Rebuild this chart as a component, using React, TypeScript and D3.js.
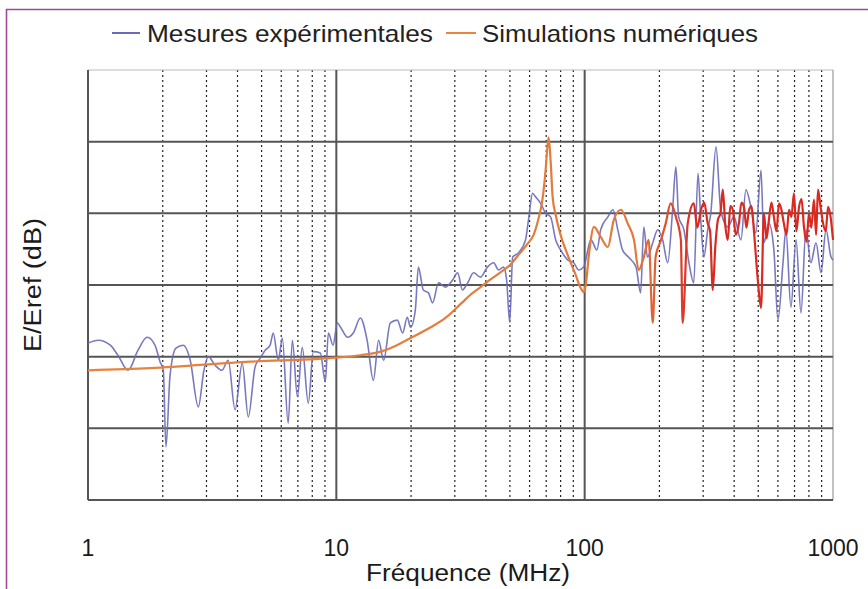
import React from 'react';
import * as d3 from 'd3';

// measured field (blue), frequency in MHz / level in dB
const measFreq = [
  1.0, 1.1, 1.23, 1.32, 1.45, 1.59, 1.73, 1.86, 1.95, 2.01, 2.06, 2.14, 2.26, 2.42, 2.58, 2.78, 2.93, 3.05,
  3.25, 3.46, 3.67, 3.91, 4.18, 4.42, 4.71, 4.94, 5.17, 5.41, 5.57, 5.84, 6.06, 6.4, 6.65, 6.97, 7.29, 7.71,
  8.08, 8.62, 9.03, 9.29, 9.7, 10.1, 10.4, 11.1, 11.7, 12.5, 13.3, 14.1, 14.8, 15.5, 16.5, 17.6, 18.5, 19.3,
  19.9, 20.8, 21.4, 22.4, 23.5, 24.4, 25.8, 27.5, 29.4, 30.8, 32.2, 33.8, 35.7, 38.1, 40.6, 43.0, 45.0, 47.1,
  48.5, 49.9, 51.3, 54.2, 57.8, 59.4, 61.7, 63.4, 66.5, 69.6, 72.9, 76.4, 80.0, 85.4, 90.3, 94.6, 99.1,
  106, 112, 116, 124, 130, 136, 142, 150, 161, 168, 173, 179, 188, 197, 206, 216, 226, 233, 239, 251, 263,
  275, 286, 294, 302, 313, 322, 338, 353, 377, 399, 426, 446, 467, 489, 513, 527, 552, 578, 600, 629, 646,
  677, 710, 743, 778, 815, 854, 895, 937, 982, 1000,
];
const measDb = [
  21.9, 22.3, 21.6, 20.2, 18.1, 20.9, 22.7, 21.6, 19.3, 18.1, 7.4, 17.4, 21.2, 21.6, 19.5, 13.0, 18.1, 20.0,
  18.8, 18.1, 19.5, 12.6, 19.1, 11.6, 18.6, 19.8, 20.9, 21.6, 23.3, 19.5, 22.6, 10.7, 22.3, 14.4, 21.3, 13.5,
  20.7, 20.5, 16.5, 23.3, 21.6, 24.7, 24.1, 22.7, 23.3, 25.4, 22.3, 16.7, 22.3, 19.5, 24.7, 25.1, 23.3, 25.5,
  24.1, 26.5, 32.5, 29.3, 28.9, 27.5, 30.3, 29.7, 30.7, 31.7, 29.3, 30.3, 31.7, 31.1, 32.5, 33.1, 32.1, 32.5,
  30.7, 24.8, 33.9, 34.5, 36.3, 39.1, 42.8, 42.3, 41.4, 40.0, 39.5, 36.3, 34.9, 33.5, 33.1, 32.1, 32.5,
  36.3, 34.9, 37.7, 39.5, 40.5, 37.7, 34.9, 33.9, 32.5, 28.9, 38.1, 33.9, 35.9, 37.7, 36.3, 33.1, 40.5, 46.5,
  39.5, 37.7, 33.1, 30.3, 45.6, 38.6, 33.9, 37.7, 40.0, 49.3, 40.5, 38.1, 39.5, 36.3, 43.3, 40.9, 37.3, 46.0,
  35.9, 38.6, 34.9, 25.1, 33.1, 37.7, 26.9, 36.3, 26.1, 37.7, 33.1, 35.9, 31.7, 37.7, 33.9, 33.5,
];

// numerical simulation (orange, turning red in the dense high-frequency part)
const simFreq = [
  1.0, 1.78, 4.5, 9.4, 12.5, 15.1, 17.3, 19.9, 24.0, 27.5, 32.0, 34.6, 38.1, 41.5, 45.5, 50.4, 55.0, 59.4,
  62.3, 65.0, 67.6, 69.6, 70.9, 71.6, 72.9, 74.3, 76.4, 80.0, 85.4, 92.0, 96.3, 99.1, 101, 104, 109, 116,
  124, 131, 140, 149, 158, 165, 173, 181, 188, 193, 203, 212, 222, 233, 244, 248, 260, 275, 284, 294, 303,
  313, 320, 328, 336, 344, 352, 360, 368, 377, 386, 395, 406, 418, 428, 438, 448, 459, 470, 480, 498, 513,
  527, 540, 552, 565, 578, 592, 606, 620, 634, 650, 665, 680, 696, 712, 730, 747, 764, 782, 800, 818, 838,
  855, 870, 890, 912, 935, 955, 978, 1000,
];
const simDb = [
  18.1, 18.4, 19.3, 19.8, 20.2, 20.7, 21.5, 22.6, 24.1, 25.4, 27.5, 28.6, 29.7, 30.7, 31.7, 32.9, 34.5, 35.9,
  37.0, 39.1, 41.9, 46.0, 49.5, 50.6, 47.4, 42.3, 39.8, 37.0, 34.2, 31.4, 29.6, 29.0, 30.0, 34.2, 38.1, 36.7,
  35.3, 39.1, 40.5, 38.6, 36.3, 32.1, 33.9, 36.3, 24.7, 33.9, 36.3, 38.6, 41.4, 39.5, 36.3, 24.7, 38.6, 41.4,
  38.0, 40.5, 41.5, 38.6, 37.5, 29.3, 35.5, 39.1, 40.0, 43.3, 38.5, 36.3, 41.0, 40.5, 37.0, 38.6, 41.5, 40.9,
  38.0, 40.5, 41.0, 37.7, 30.7, 26.8, 40.0, 36.5, 39.1, 41.5, 39.5, 37.5, 41.4, 40.5, 38.6, 37.0, 40.5, 39.5,
  42.8, 37.5, 40.9, 42.0, 38.1, 36.0, 40.0, 38.0, 41.9, 37.0, 43.3, 41.0, 38.6, 37.5, 40.9, 39.5, 36.3,
];

const xLabels = [1, 10, 100, 1000];
const yGrid = [0, 10, 20, 30, 40, 50, 60];

const W = 868;
const H = 589;
const margin = { top: 70, right: 35, bottom: 89, left: 88 };

export default function App() {
  const x = d3.scaleLog().domain([1, 1000]).range([margin.left, W - margin.right]);
  const y = d3.scaleLinear().domain([0, 60]).range([H - margin.bottom, margin.top]);

  const meas = measFreq.map((f, i) => [f, measDb[i]] as [number, number]);
  const sim = simFreq.map((f, i) => [f, simDb[i]] as [number, number]);
  const line = d3
    .line<[number, number]>()
    .x((d) => x(d[0]))
    .y((d) => y(d[1]))
    .curve(d3.curveMonotoneX);

  const minor = x.ticks().filter((t) => Math.abs(Math.log10(t) - Math.round(Math.log10(t))) > 1e-6);
  const x0 = margin.left;
  const x1 = W - margin.right;
  const y0 = margin.top;
  const y1 = H - margin.bottom;
  const gOff = (f: number) => (x(f) - x0) / (x1 - x0);
  const font = 'Liberation Sans, Arial, sans-serif';

  return (
    <svg width={W} height={H} style={{ position: 'absolute', left: 0, top: 0, background: '#fff' }}>
      <defs>
        <linearGradient id="simGrad" gradientUnits="userSpaceOnUse" x1={x0} x2={x1} y1={0} y2={0}>
          <stop offset={0} stopColor="#e8843c" />
          <stop offset={gOff(160)} stopColor="#e27a3c" />
          <stop offset={gOff(280)} stopColor="#d92a22" />
          <stop offset={1} stopColor="#d92a22" />
        </linearGradient>
      </defs>
      {/* frame */}
      <path d={`M6.5,${H} V9.5 H${W}`} fill="none" stroke="#a04a98" strokeWidth={1.6} />

      {/* legend */}
      <line x1={112} x2={140} y1={33} y2={33} stroke="#6a6ab8" strokeWidth={2} />
      <text x={147} y={42} fontFamily={font} fontSize={24} fill="#222" textLength={286} lengthAdjust="spacingAndGlyphs">
        Mesures expérimentales
      </text>
      <line x1={446} x2={476} y1={33} y2={33} stroke="#e8843c" strokeWidth={2} />
      <text x={482} y={42} fontFamily={font} fontSize={24} fill="#222" textLength={276} lengthAdjust="spacingAndGlyphs">
        Simulations numériques
      </text>

      {/* grid */}
      {minor.map((t) => (
        <line key={'m' + t} x1={x(t)} x2={x(t)} y1={y0} y2={y1} stroke="#222" strokeWidth={1.2} strokeDasharray="2 3" />
      ))}
      <line x1={x0} x2={x1} y1={y0} y2={y0} stroke="#bbb" strokeWidth={1.2} />
      <line x1={x1} x2={x1} y1={y0} y2={y1} stroke="#999" strokeWidth={1.2} />
      {yGrid.slice(0, -1).map((v) => (
        <line key={'h' + v} x1={x0} x2={x1} y1={y(v)} y2={y(v)} stroke="#555" strokeWidth={2} />
      ))}
      {[1, 10, 100].map((f) => (
        <line key={'d' + f} x1={x(f)} x2={x(f)} y1={y0} y2={y1} stroke="#555" strokeWidth={2} />
      ))}

      {/* series */}
      <path d={line(meas) || ''} fill="none" stroke="#6a6ab8" strokeWidth={1.6} strokeOpacity={0.9} strokeLinejoin="round" />
      <path d={line(sim) || ''} fill="none" stroke="url(#simGrad)" strokeWidth={2.2} strokeLinejoin="round" />

      {/* axis labels */}
      {xLabels.map((f) => (
        <text key={'l' + f} x={x(f)} y={556} textAnchor="middle" fontFamily={font} fontSize={23} fill="#1a1a1a">
          {f}
        </text>
      ))}
      <text x={468} y={581} textAnchor="middle" fontFamily={font} fontSize={23} fill="#1a1a1a" textLength={204} lengthAdjust="spacingAndGlyphs">
        Fréquence (MHz)
      </text>
      <text
        transform={`translate(41,${(y0 + y1) / 2}) rotate(-90)`}
        textAnchor="middle"
        fontFamily={font}
        fontSize={23}
        fill="#1a1a1a"
        textLength={134}
        lengthAdjust="spacingAndGlyphs"
      >
        E/Eref (dB)
      </text>
    </svg>
  );
}
